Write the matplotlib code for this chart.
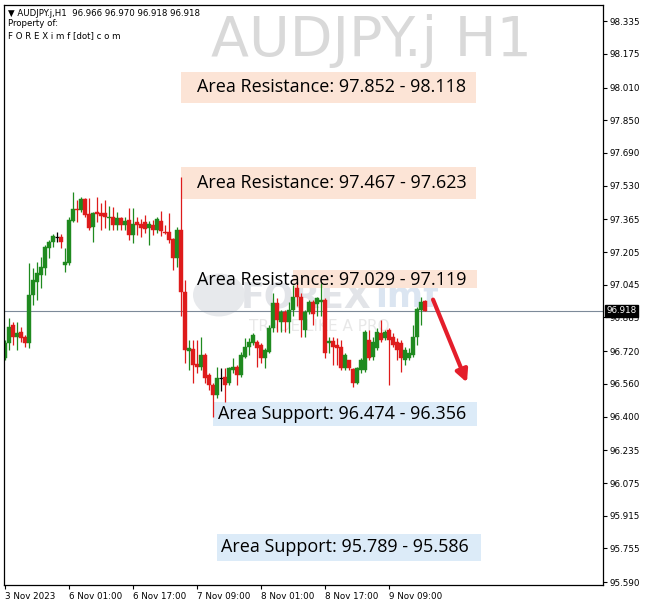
import matplotlib
matplotlib.use("Agg")
import matplotlib.pyplot as plt
import matplotlib.transforms as mtransforms
from matplotlib.patches import Rectangle, Ellipse

# AUDJPY.j H1 candles
opens = [96.687, 96.759, 96.848, 96.789, 96.813, 96.789, 96.759, 96.995, 97.058, 97.093,
         97.127, 97.225, 97.254, 97.279, 97.279, 97.142, 97.151, 97.357, 97.415, 97.410,
         97.464, 97.391, 97.328, 97.401, 97.396, 97.396, 97.372, 97.377, 97.337, 97.372,
         97.337, 97.362, 97.289, 97.352, 97.342, 97.352, 97.323, 97.337, 97.313, 97.357,
         97.303, 97.303, 97.269, 97.176, 97.313, 97.009, 96.720, 96.730, 96.657, 96.643,
         96.701, 96.603, 96.554, 96.505, 96.589, 96.594, 96.564, 96.628, 96.643, 96.603,
         96.691, 96.740, 96.759, 96.764, 96.750, 96.686, 96.716, 96.833, 96.955, 96.862,
         96.911, 96.862, 96.921, 97.029, 96.985, 96.823, 96.911, 96.960, 96.950, 96.960,
         96.970, 96.759, 96.769, 96.750, 96.740, 96.638, 96.677, 96.633, 96.564, 96.628,
         96.628, 96.774, 96.691, 96.735, 96.808, 96.784, 96.823, 96.789, 96.764, 96.759,
         96.677, 96.686, 96.701, 96.789, 96.921, 96.966]
highs = [96.774, 96.882, 96.862, 96.862, 96.838, 96.799, 97.151, 97.127, 97.156, 97.181,
         97.240, 97.264, 97.294, 97.303, 97.294, 97.225, 97.377, 97.498, 97.459, 97.474,
         97.469, 97.469, 97.401, 97.474, 97.445, 97.459, 97.430, 97.425, 97.401, 97.377,
         97.377, 97.420, 97.420, 97.377, 97.367, 97.386, 97.357, 97.362, 97.377, 97.406,
         97.337, 97.396, 97.274, 97.328, 97.572, 97.068, 96.774, 96.774, 96.774, 96.789,
         96.711, 96.613, 96.564, 96.643, 96.638, 96.638, 96.643, 96.686, 96.652, 96.716,
         96.784, 96.784, 96.808, 96.774, 96.759, 96.735, 96.848, 97.004, 96.980, 96.921,
         96.921, 96.960, 97.043, 97.058, 97.004, 96.921, 96.970, 96.970, 96.985, 97.053,
         96.980, 96.789, 96.789, 96.784, 96.774, 96.711, 96.677, 96.638, 96.643, 96.686,
         96.823, 96.823, 96.789, 96.833, 96.872, 96.823, 96.833, 96.808, 96.784, 96.774,
         96.740, 96.735, 96.848, 96.936, 96.985, 96.970]
lows = [96.677, 96.725, 96.750, 96.725, 96.764, 96.740, 96.735, 96.946, 96.970, 97.029,
        97.093, 97.176, 97.230, 97.254, 97.225, 97.107, 97.142, 97.352, 97.352, 97.401,
        97.377, 97.313, 97.254, 97.352, 97.313, 97.323, 97.313, 97.313, 97.313, 97.313,
        97.313, 97.264, 97.249, 97.289, 97.279, 97.298, 97.240, 97.289, 97.298, 97.284,
        97.294, 97.249, 97.117, 97.132, 96.890, 96.662, 96.628, 96.564, 96.613, 96.628,
        96.564, 96.530, 96.398, 96.491, 96.525, 96.471, 96.554, 96.613, 96.554, 96.594,
        96.686, 96.701, 96.750, 96.643, 96.662, 96.638, 96.711, 96.813, 96.813, 96.813,
        96.813, 96.808, 96.892, 96.941, 96.789, 96.789, 96.901, 96.848, 96.892, 96.892,
        96.686, 96.711, 96.652, 96.652, 96.628, 96.628, 96.628, 96.545, 96.559, 96.613,
        96.618, 96.677, 96.677, 96.725, 96.764, 96.774, 96.554, 96.740, 96.677, 96.618,
        96.652, 96.677, 96.691, 96.750, 96.848, 96.918]
closes = [96.759, 96.838, 96.789, 96.808, 96.784, 96.759, 96.995, 97.068, 97.102, 97.132,
          97.230, 97.254, 97.284, 97.279, 97.254, 97.156, 97.362, 97.415, 97.410, 97.464,
          97.386, 97.323, 97.396, 97.391, 97.381, 97.377, 97.377, 97.337, 97.372, 97.337,
          97.357, 97.289, 97.342, 97.337, 97.323, 97.318, 97.342, 97.313, 97.367, 97.308,
          97.298, 97.264, 97.176, 97.313, 97.009, 96.725, 96.735, 96.652, 96.643, 96.701,
          96.589, 96.554, 96.505, 96.589, 96.589, 96.554, 96.638, 96.643, 96.603, 96.701,
          96.740, 96.764, 96.799, 96.735, 96.686, 96.725, 96.833, 96.955, 96.872, 96.911,
          96.862, 96.921, 96.985, 96.985, 96.872, 96.911, 96.960, 96.901, 96.980, 96.970,
          96.711, 96.769, 96.740, 96.735, 96.638, 96.701, 96.638, 96.564, 96.638, 96.677,
          96.813, 96.686, 96.764, 96.813, 96.774, 96.813, 96.774, 96.750, 96.725, 96.686,
          96.725, 96.711, 96.789, 96.926, 96.960, 96.918]

last_price = 96.918

price_ticks = [98.335, 98.175, 98.010, 97.850, 97.690, 97.530, 97.365, 97.205, 97.045,
               96.885, 96.720, 96.560, 96.400, 96.235, 96.075, 95.915, 95.755, 95.590]
time_ticks = [0, 16, 32, 48, 64, 80, 96]
time_labels = ["3 Nov 2023", "6 Nov 01:00", "6 Nov 17:00", "7 Nov 09:00",
               "8 Nov 01:00", "8 Nov 17:00", "9 Nov 09:00"]

# zone boxes
zone_texts = ["Area Resistance: 97.852 - 98.118", "Area Resistance: 97.467 - 97.623",
              "Area Resistance: 97.029 - 97.119", "Area Support: 96.474 - 96.356",
              "Area Support: 95.789 - 95.586"]
zone_lo = [97.934, 97.464, 97.029, 96.354, 95.693]
zone_hi = [98.086, 97.621, 97.117, 96.471, 95.825]
zone_x0 = [44, 44, 72, 52, 53]
zone_x1 = [117.75, 117.75, 118, 118, 119]
zone_tx = [48, 48, 48, 53.25, 54]
zone_ty = [98.012, 97.545, 97.066, 96.412, 95.762]
zone_res = [True, True, True, False, False]

W, H = 646, 608
fig = plt.figure(figsize=(W / 100, H / 100), dpi=100)
ax = fig.add_axes([4 / W, (H - 585) / H, 599 / W, 580 / H])
ax.set_xlim(-0.25, 149.5)
ax.set_ylim(95.576, 98.414)

green = "#1f8a1f"
red = "#de1b1b"
for i in range(len(opens)):
    o, h, l, c = opens[i], highs[i], lows[i], closes[i]
    if c > o:
        col = green
    elif c < o:
        col = red
    else:
        col = "black"
    ax.vlines(i, l, h, color=col, lw=0.9, zorder=2)
    if c == o:
        ax.hlines(o, i - 0.4, i + 0.4, color=col, lw=0.9, zorder=2)
    else:
        ax.add_patch(Rectangle((i - 0.38, min(o, c)), 0.76, abs(c - o),
                               facecolor=col, edgecolor=col, lw=0.3, zorder=2))

# zones
for k in range(len(zone_texts)):
    fc = "#fce4d6" if zone_res[k] else "#dcebf8"
    ax.add_patch(Rectangle((zone_x0[k], zone_lo[k]), zone_x1[k] - zone_x0[k],
                           zone_hi[k] - zone_lo[k], facecolor=fc, edgecolor="none", zorder=1))
    ax.text(zone_tx[k], zone_ty[k], zone_texts[k], fontsize=13, family="Open Sans",
            va="center", ha="left", color="black", zorder=4)

# watermark (faint, behind candles)
ax.add_patch(Ellipse((53.5, 96.995), 13, 0.21, facecolor="#d8dbe0", edgecolor="none",
                     alpha=0.6, zorder=0.5))
ax.text(59, 96.985, "FOREX", fontsize=25, fontweight="bold", color="#e2e4e8",
        va="center", ha="left", zorder=0.5)
ax.text(92.5, 96.985, "imf", fontsize=25, fontweight="bold", color="#dbe5f1",
        va="center", ha="left", zorder=0.5)
ax.text(61, 96.84, "TRADE LIKE A PRO", fontsize=11, color="#e8e8e8",
        va="center", ha="left", zorder=0.5)

# current price line and label
ax.axhline(last_price, color="#7d8a99", lw=0.8, zorder=1.5)
trans = mtransforms.blended_transform_factory(ax.transAxes, ax.transData)
ax.text(1.006, last_price, f"{last_price:.3f}", transform=trans, fontsize=6.3,
        color="white", va="center", ha="left", zorder=5, clip_on=False,
        bbox=dict(boxstyle="square,pad=0.15", facecolor="black", edgecolor="black"))

# arrow
ax.annotate("", xy=(115.75, 96.554), xytext=(106.75, 96.985),
            arrowprops=dict(arrowstyle="-|>", color="#e41e2b", lw=3, mutation_scale=18),
            zorder=4)

# axes
ax.yaxis.tick_right()
ax.set_yticks(price_ticks)
ax.set_yticklabels([f"{p:.3f}" for p in price_ticks])
ax.set_xticks(time_ticks)
ax.set_xticklabels(time_labels)
for lbl in ax.get_xticklabels():
    lbl.set_ha("left")
ax.tick_params(axis="both", direction="out", length=3, width=0.8, labelsize=6.3,
               colors="black", pad=2)
for s in ax.spines.values():
    s.set_color("black")
    s.set_linewidth(0.9)

# header
fig.text(8 / W, 1 - 13 / H, "\u25bc AUDJPY.j,H1  96.966 96.970 96.918 96.918",
         fontsize=6.2, va="center", ha="left")
fig.text(8 / W, 1 - 24 / H, "Property of:", fontsize=6.2, va="center", ha="left")
fig.text(8 / W, 1 - 36 / H, "F O R E X i m f [dot] c o m", fontsize=6.2,
         va="center", ha="left")
fig.text(371 / W, 1 - 41 / H, "AUDJPY.j H1", fontsize=40, color="#d9d9d9",
         va="center", ha="center")

fig.savefig("out.png", dpi=100)
